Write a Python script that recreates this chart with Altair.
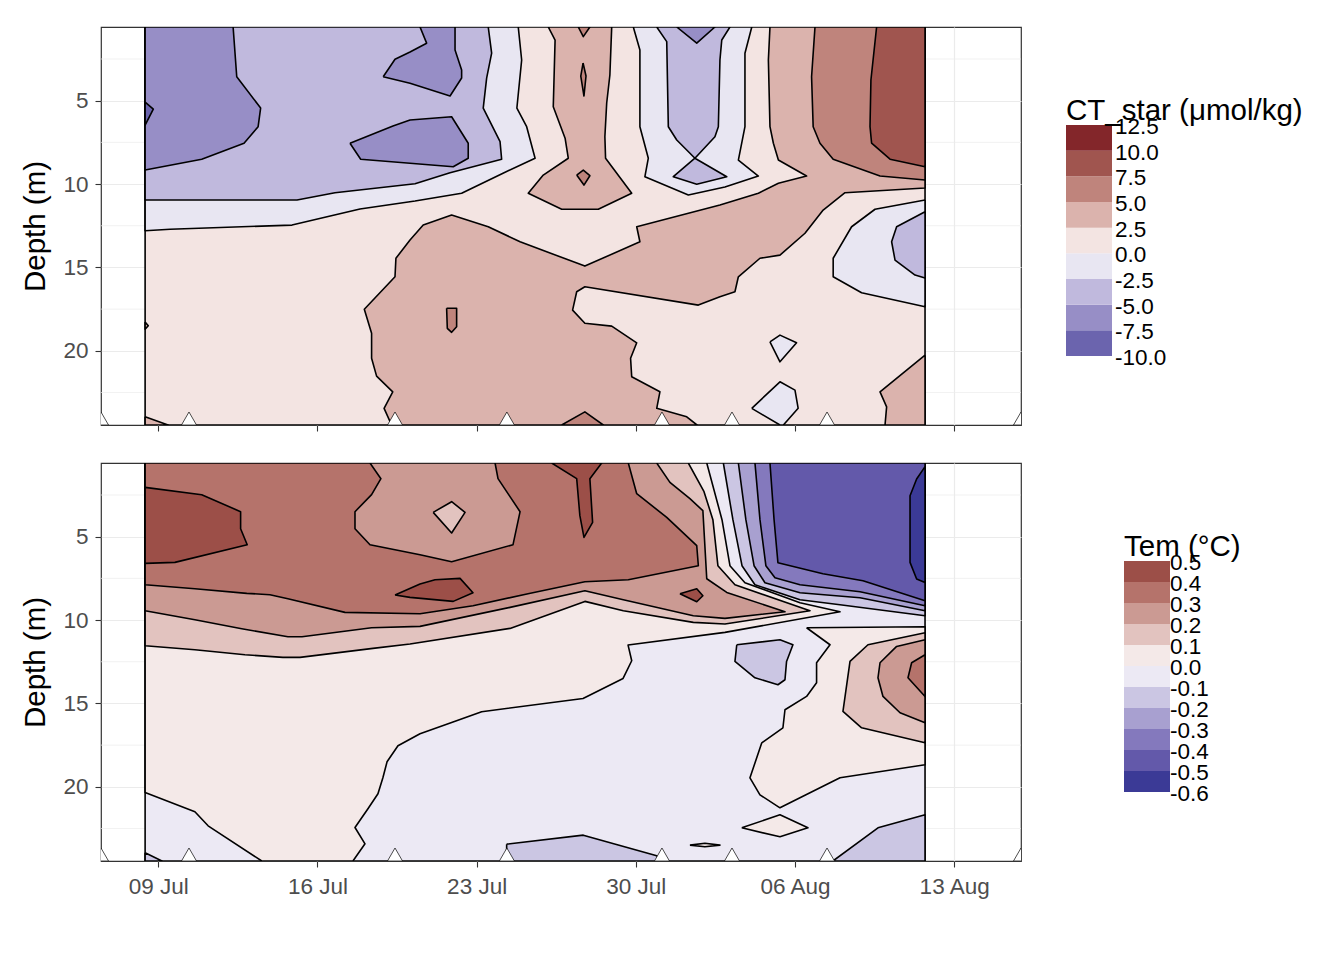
import altair as alt
import pandas as pd

FONT = "Liberation Sans"

# x values are days after 30 June (9 = 09 Jul, 37 = 06 Aug); depth in metres
X_DOMAIN = [6.48, 46.94]
DEPTH_DOMAIN = [0.58, 24.45]
X_TICKS = [9, 16, 23, 30, 37, 44]
X_TICK_LABELS = ["09 Jul", "16 Jul", "23 Jul", "30 Jul", "06 Aug", "13 Aug"]
X_MINOR = [12.5, 19.5, 26.5, 33.5, 40.5]
Y_TICKS = [5, 10, 15, 20]
Y_MINOR = [2.5, 7.5, 12.5, 17.5, 22.5]
SAMPLE_DAYS = [6.48, 10.35, 19.41, 24.33, 31.15, 34.23, 38.41, 46.94]
SAMPLE_DEPTH = 24.45

CT_BREAKS = [-10.0, -7.5, -5.0, -2.5, 0.0, 2.5, 5.0, 7.5, 10.0, 12.5]
CT_COLORS = ["#6b64ae", "#978ec6", "#c0b9dd", "#e8e6f2", "#f3e4e2",
             "#dbb3ad", "#bf847c", "#a0554f", "#83262a"]
TEM_BREAKS = [-0.6, -0.5, -0.4, -0.3, -0.2, -0.1, 0.0, 0.1, 0.2, 0.3, 0.4, 0.5]
TEM_COLORS = ["#3b3a96", "#6359aa", "#8479bd", "#a8a0d0", "#cbc6e3", "#ece9f4",
              "#f4e9e8", "#e2c3bf", "#cb9a93", "#b5736b", "#9c4f48"]

# ---------------- CT_star filled-contour regions (day, depth) ----------------
CT_BG = [(8.42, 0.58), (42.72, 0.58), (42.72, 24.45), (8.42, 24.45)]
CT_A = [(8.42, 0.58), (24.83, 0.58), (24.98, 2.56), (24.77, 5.44), (25.20, 6.56), (25.57, 8.45),
        (24.16, 9.35), (22.34, 10.55), (20.29, 11.02), (17.87, 11.50), (14.88, 12.46),
        (9.52, 12.71), (8.42, 12.80)]
CT_B = [(8.42, 0.58), (23.51, 0.58), (23.66, 2.15), (23.44, 3.65), (23.29, 5.45), (24.03, 7.46),
        (24.10, 8.51), (21.83, 9.32), (20.29, 9.98), (16.77, 10.52), (15.10, 10.96), (8.42, 10.96)]
CT_C = [(8.42, 0.58), (12.29, 0.58), (12.45, 3.56), (13.50, 5.44), (13.39, 6.56), (12.77, 7.55),
        (10.91, 8.51), (8.42, 9.16)]
CT_C0 = [(8.42, 5.08), (8.78, 5.51), (8.42, 6.46)]
CT_D = [(18.89, 3.56), (19.41, 2.51), (20.07, 2.08), (20.80, 1.55), (20.51, 0.58), (22.05, 0.58),
        (22.05, 1.96), (22.34, 3.16), (22.34, 3.64), (21.83, 4.72), (20.07, 3.95)]
CT_E = [(17.43, 7.55), (19.32, 6.52), (20.07, 6.16), (21.90, 5.96), (22.63, 7.55), (22.63, 8.45),
        (21.97, 8.96), (20.07, 8.75), (17.90, 8.51)]
CT_F = [(26.15, 0.58), (26.45, 1.36), (26.37, 5.36), (26.89, 7.25), (27.03, 8.45), (25.93, 9.46),
        (25.27, 10.55), (26.74, 11.51), (28.35, 11.51), (29.82, 10.55), (28.67, 8.45), (28.64, 7.16),
        (28.72, 5.14), (28.86, 3.46), (28.94, 0.58)]
CT_F1 = [(27.47, 0.58), (27.69, 1.16), (27.98, 0.58)]
CT_F2 = [(27.68, 2.74), (27.81, 3.52), (27.72, 4.72), (27.58, 3.52)]
CT_F3 = [(27.40, 9.46), (27.69, 9.16), (27.98, 9.50), (27.72, 10.06)]
CT_G = [(29.89, 0.58), (35.10, 0.58), (34.80, 2.15), (34.80, 6.56), (34.51, 8.56), (35.39, 9.52),
        (33.92, 10.18), (32.31, 10.66), (30.40, 9.56), (30.55, 8.45), (30.18, 6.56), (30.18, 1.96)]
CT_H = [(30.92, 0.58), (31.36, 1.46), (31.43, 6.56), (31.80, 7.36), (32.60, 8.45), (31.65, 9.56),
        (32.68, 10.01), (34.00, 9.56), (32.60, 8.45), (33.48, 7.16), (33.63, 6.56), (33.70, 2.56),
        (33.78, 1.36), (34.14, 0.58)]
CT_H1 = [(31.80, 0.58), (32.68, 1.55), (33.48, 0.58)]
CT_I = [(35.90, 0.58), (42.72, 0.58), (42.72, 10.24), (39.20, 10.52), (38.24, 11.56), (37.44, 12.95),
        (36.34, 14.26), (35.46, 14.45), (34.51, 15.56), (34.36, 16.46), (33.70, 16.76), (32.75, 17.26),
        (27.76, 16.16), (27.40, 16.46), (27.22, 17.56), (27.76, 18.35), (28.94, 18.52), (30.04, 19.52),
        (29.77, 20.45), (29.82, 21.56), (31.06, 22.46), (30.92, 23.45), (32.24, 23.96), (32.69, 24.45),
        (19.26, 24.45), (18.93, 23.45), (19.31, 22.46), (18.60, 21.52), (18.38, 20.45), (18.38, 18.95),
        (18.06, 17.51), (19.41, 15.56), (19.45, 14.45), (20.07, 13.36), (20.65, 12.46), (21.90, 11.86),
        (23.51, 12.56), (24.91, 13.46), (27.76, 14.92), (30.18, 13.46), (30.04, 12.56), (33.70, 11.26),
        (35.39, 10.55), (36.27, 9.95), (37.51, 9.52), (36.27, 8.56), (36.05, 7.55), (35.90, 6.56),
        (35.83, 2.56)]
CT_J = [(37.88, 0.58), (42.72, 0.58), (42.72, 9.76), (40.74, 9.52), (38.68, 8.51), (38.10, 7.55),
        (37.80, 6.56), (37.73, 3.56)]
CT_K = [(40.59, 0.58), (42.72, 0.58), (42.72, 8.96), (41.18, 8.51), (40.37, 7.55), (40.30, 6.56),
        (40.34, 3.76)]
CT_I1 = [(21.68, 17.45), (22.12, 17.45), (22.12, 18.56), (21.90, 18.89), (21.71, 18.65)]
CT_I2 = [(26.74, 24.45), (27.76, 23.66), (28.57, 24.45)]
CT_L = [(42.72, 10.96), (40.52, 11.51), (39.49, 12.56), (38.68, 14.45), (38.68, 15.56), (39.93, 16.52),
        (42.72, 17.36)]
CT_M = [(42.72, 11.66), (41.47, 12.56), (41.25, 13.46), (41.40, 14.56), (42.28, 15.46), (42.72, 15.64)]
CT_N1 = [(35.90, 19.46), (36.34, 19.06), (37.07, 19.52), (36.34, 20.66)]
CT_N2 = [(35.10, 23.45), (36.34, 21.86), (37.00, 22.36), (37.14, 23.45), (36.49, 24.45), (36.34, 24.45)]
CT_O = [(42.72, 20.26), (40.74, 22.46), (41.03, 23.36), (40.96, 24.45), (42.72, 24.45)]
CT_P = [(8.42, 23.96), (9.43, 24.45), (8.42, 24.45)]
CT_P2 = [(8.42, 18.28), (8.56, 18.50), (8.42, 18.70)]

# (class index into CT_COLORS, region) in drawing order
CT_LAYERS = [(4, CT_BG), (3, CT_A), (2, CT_B), (1, CT_C), (0, CT_C0), (1, CT_D), (1, CT_E),
             (5, CT_F), (6, CT_F1), (6, CT_F2), (6, CT_F3), (3, CT_G), (2, CT_H), (1, CT_H1),
             (5, CT_I), (6, CT_J), (7, CT_K), (6, CT_I1), (6, CT_I2), (3, CT_L), (2, CT_M),
             (3, CT_N1), (3, CT_N2), (5, CT_O), (5, CT_P), (5, CT_P2)]

# ---------------- Temperature filled-contour regions (day, depth) ----------------
T_BG = [(8.42, 0.58), (42.72, 0.58), (42.72, 24.45), (8.42, 24.45)]
T_Q6 = [(8.42, 0.58), (33.12, 0.58), (33.79, 3.98), (34.14, 6.74), (34.80, 7.76), (37.22, 8.96),
        (38.98, 9.50), (33.92, 10.74), (29.66, 11.50), (29.82, 12.44), (29.44, 13.50), (27.68, 14.70),
        (23.22, 15.50), (21.90, 16.14), (20.51, 16.82), (19.54, 17.54), (19.06, 18.50), (18.88, 19.44),
        (18.66, 20.42), (18.22, 21.32), (17.65, 22.44), (18.09, 23.42), (17.56, 24.45), (13.55, 24.45),
        (11.19, 22.34), (10.61, 21.50), (8.42, 20.34)]
T_Q7 = [(8.42, 0.58), (32.31, 0.58), (33.00, 2.30), (33.39, 3.98), (33.61, 6.74), (34.36, 7.88),
        (37.66, 9.44), (33.92, 10.24), (32.53, 10.14), (29.45, 9.44), (27.76, 8.88), (24.47, 10.50),
        (20.07, 11.44), (18.44, 11.70), (15.23, 12.24), (14.48, 12.24), (12.81, 12.08), (10.61, 11.78),
        (8.42, 11.54)]
T_Q8 = [(8.42, 0.58), (30.92, 0.58), (31.50, 1.74), (32.38, 2.72), (32.95, 3.44), (33.12, 7.52),
        (34.00, 8.34), (36.56, 9.50), (33.92, 9.90), (32.53, 9.74), (29.45, 8.78), (27.76, 8.24),
        (24.47, 9.24), (20.51, 10.38), (18.38, 10.46), (15.32, 11.00), (14.70, 11.00), (12.67, 10.52),
        (10.61, 9.98), (8.42, 9.44)]
T_Q9 = [(8.42, 0.58), (29.67, 0.58), (30.04, 2.42), (31.36, 3.84), (32.68, 5.54), (32.75, 6.74),
        (29.67, 7.58), (27.76, 7.70), (25.26, 8.42), (22.84, 9.14), (20.51, 9.62), (17.21, 9.54),
        (14.70, 8.72), (13.91, 8.48), (12.89, 8.40), (10.61, 8.12), (8.42, 7.88)]
T_8P = [(18.31, 0.58), (23.81, 0.58), (23.94, 1.52), (24.91, 3.50), (24.60, 5.48), (21.90, 6.50),
        (20.51, 6.08), (18.31, 5.48), (17.65, 4.52), (17.65, 3.50), (18.38, 2.48), (18.79, 1.52)]
T_7I = [(21.09, 3.54), (21.90, 2.90), (22.49, 3.54), (21.90, 4.78)]
T_10A = [(8.42, 2.04), (10.91, 2.48), (12.62, 3.50), (12.62, 4.52), (12.91, 5.48), (9.73, 6.54),
         (8.42, 6.60)]
T_10B = [(26.30, 0.58), (27.40, 1.52), (27.54, 3.74), (27.72, 5.04), (28.10, 4.14), (27.98, 1.52),
         (28.50, 0.58)]
T_10C = [(19.41, 8.50), (20.51, 7.84), (21.17, 7.58), (22.27, 7.50), (22.84, 8.36), (21.97, 8.88),
         (20.07, 8.64)]
T_10D = [(31.94, 8.42), (32.68, 8.12), (32.95, 8.54), (32.68, 8.90)]
T_C4 = [(33.85, 0.58), (42.72, 0.58), (42.72, 9.74), (38.98, 9.08), (37.22, 8.78), (35.24, 7.88),
        (34.67, 6.74), (34.27, 3.98)]
T_C3 = [(34.51, 0.58), (42.72, 0.58), (42.72, 9.44), (39.86, 8.66), (37.22, 8.36), (35.68, 7.76),
        (35.20, 6.74), (34.84, 3.98)]
T_C2 = [(35.24, 0.58), (42.72, 0.58), (42.72, 9.14), (39.86, 8.30), (37.22, 7.88), (36.12, 7.46),
        (35.72, 6.74), (35.46, 3.98)]
T_C1 = [(35.90, 0.58), (42.72, 0.58), (42.72, 8.84), (39.99, 7.64), (38.23, 7.22), (36.25, 6.56),
        (36.08, 3.98)]
T_C0 = [(42.72, 0.80), (42.35, 1.54), (42.06, 2.54), (42.06, 6.54), (42.35, 7.54), (42.72, 7.74)]
T_6R = [(37.51, 10.46), (42.72, 10.40), (42.72, 18.68), (38.98, 19.46), (36.34, 21.26), (35.46, 20.48),
        (35.02, 19.46), (35.54, 17.36), (36.47, 16.46), (36.56, 15.38), (37.51, 14.58), (37.95, 13.76),
        (37.95, 12.56), (38.54, 11.48)]
T_7R = [(42.72, 10.76), (40.21, 11.48), (39.42, 12.48), (39.11, 15.48), (39.93, 16.46), (42.72, 17.36)]
T_8R = [(42.72, 11.18), (41.47, 11.58), (40.74, 12.56), (40.65, 13.46), (40.87, 14.58), (41.62, 15.56),
        (42.72, 16.16)]
T_9R = [(42.72, 12.08), (42.13, 12.56), (41.97, 13.46), (42.72, 14.58)]
T_4I = [(34.44, 11.48), (36.34, 11.18), (36.91, 11.48), (36.63, 12.48), (36.56, 13.58), (36.25, 13.88),
        (35.24, 13.46), (34.36, 12.48)]
T_6I = [(34.66, 22.46), (36.34, 21.68), (37.57, 22.46), (36.34, 23.00)]
T_4R = [(38.67, 24.45), (40.65, 22.46), (42.72, 21.68), (42.72, 24.45)]
T_4M = [(24.32, 23.44), (27.69, 22.90), (30.92, 24.14), (31.15, 24.45), (24.32, 24.45)]
T_4L = [(8.42, 23.96), (9.16, 24.45), (8.42, 24.45)]
T_6S = [(32.38, 23.50), (33.04, 23.39), (33.70, 23.50), (33.04, 23.60)]

TEM_LAYERS = [(5, T_BG), (6, T_Q6), (7, T_Q7), (8, T_Q8), (9, T_Q9), (8, T_8P), (7, T_7I),
              (10, T_10A), (10, T_10B), (10, T_10C), (10, T_10D), (4, T_C4), (3, T_C3), (2, T_C2),
              (1, T_C1), (0, T_C0), (6, T_6R), (7, T_7R), (8, T_8R), (9, T_9R), (4, T_4I), (6, T_6I),
              (4, T_4R), (4, T_4M), (4, T_4L), (6, T_6S)]

LABEL_EXPR = " : ".join(f"datum.value == {v} ? '{t}'" for v, t in zip(X_TICKS, X_TICK_LABELS)) + " : ''"


def poly_frame(layers, colors):
    rows, pids, fills = [], [], []
    for n, (cls, pts) in enumerate(layers):
        pid = f"p{n:03d}"
        pids.append(pid)
        fills.append(colors[cls])
        for i, (d, z) in enumerate(list(pts) + [pts[0]]):
            rows.append({"pid": pid, "i": i, "day": d, "depth": z})
    return pd.DataFrame(rows), pids, fills


def panel(layers, colors, show_x_labels):
    df, pids, fills = poly_frame(layers, colors)
    xs = alt.Scale(domain=X_DOMAIN, nice=False, zero=False)
    ys = alt.Scale(domain=DEPTH_DOMAIN, reverse=True, nice=False, zero=False)
    X = alt.X("day:Q", scale=xs,
              axis=alt.Axis(values=X_TICKS, labelExpr=LABEL_EXPR, labels=show_x_labels, title=None,
                            grid=True, tickSize=6, labelPadding=8))
    Y = alt.Y("depth:Q", scale=ys,
              axis=alt.Axis(values=Y_TICKS, title="Depth (m)", grid=True, tickSize=6,
                            labelPadding=7, titlePadding=12))
    minor_x = alt.Chart(pd.DataFrame({"day": X_MINOR})).mark_rule(
        color="#EBEBEB", strokeWidth=0.7).encode(x=X)
    minor_y = alt.Chart(pd.DataFrame({"depth": Y_MINOR})).mark_rule(
        color="#EBEBEB", strokeWidth=0.7).encode(y=Y)
    polys = alt.Chart(df).mark_line(
        stroke="black", strokeWidth=1.6, strokeJoin="round", clip=True
    ).encode(
        x=X, y=Y, order=alt.Order("i:Q"),
        fill=alt.Fill("pid:N", scale=alt.Scale(domain=pids, range=fills), legend=None),
    )
    tri = alt.Chart(pd.DataFrame({"day": SAMPLE_DAYS, "depth": [SAMPLE_DEPTH] * len(SAMPLE_DAYS)})).mark_point(
        shape="triangle-up", size=225, filled=True, fill="white", stroke="black",
        strokeWidth=0.7, opacity=1, yOffset=-6.5, clip=True
    ).encode(x=X, y=Y)
    return alt.layer(minor_x, minor_y, polys, tri).properties(
        width=920, height=398, view=alt.ViewBackground(stroke="#333333", strokeWidth=1.2))


def legend(breaks, colors, title, x0, label_x, top_tick):
    n = len(colors)
    ysc = alt.Scale(domain=[breaks[0], breaks[-1]], range=[329, 98], nice=False, zero=False)
    bins = pd.DataFrame({"lo": breaks[:-1], "hi": breaks[1:], "cls": list(range(n))})
    rects = alt.Chart(bins).mark_rect().encode(
        y=alt.Y("lo:Q", scale=ysc, axis=None), y2="hi:Q",
        x=alt.value(x0), x2=alt.value(x0 + 46),
        fill=alt.Fill("cls:N", scale=alt.Scale(domain=list(range(n)), range=colors), legend=None),
    )
    labs = pd.DataFrame({"lo": breaks, "txt": [f"{v:.1f}" for v in breaks]})
    labels = alt.Chart(labs).mark_text(
        align="left", baseline="middle", fontSize=22.5, font=FONT, color="black", dy=2
    ).encode(y=alt.Y("lo:Q", scale=ysc, axis=None), x=alt.value(label_x), text="txt:N")
    ttl = alt.Chart(pd.DataFrame({"t": [title]})).mark_text(
        align="left", baseline="alphabetic", fontSize=29.5, font=FONT, color="black"
    ).encode(x=alt.value(x0), y=alt.value(93), text="t:N")
    layers = [rects, labels, ttl]
    if top_tick:
        tick = alt.Chart(pd.DataFrame({"lo": [breaks[-1]]})).mark_rule(color="black", strokeWidth=1.2).encode(
            y=alt.Y("lo:Q", scale=ysc, axis=None), x=alt.value(x0 + 41), x2=alt.value(x0 + 55))
        layers.append(tick)
    return alt.layer(*layers).properties(
        width=290, height=398, view=alt.ViewBackground(stroke="transparent"))


top = panel(CT_LAYERS, CT_COLORS, False)
bottom = panel(TEM_LAYERS, TEM_COLORS, True)
leg_top = legend(CT_BREAKS, CT_COLORS, "CT_star (μmol/kg)", 44, 93, True)
leg_bot = legend(TEM_BREAKS, TEM_COLORS, "Tem (°C)", 102, 148, False)

row1 = alt.hconcat(top, leg_top, spacing=0).resolve_scale(x="independent", y="independent", fill="independent")
row2 = alt.hconcat(bottom, leg_bot, spacing=0).resolve_scale(x="independent", y="independent", fill="independent")

chart = alt.vconcat(row1, row2, spacing=29).resolve_scale(
    x="independent", y="independent", fill="independent"
).properties(
    padding={"left": 12, "top": 18, "right": 5, "bottom": 5}
).configure_axis(
    labelFont=FONT, titleFont=FONT, labelFontSize=22.5, titleFontSize=29.5,
    labelColor="#4D4D4D", titleColor="black", titleFontWeight="normal",
    tickColor="#333333", tickWidth=1.1, domain=False,
    gridColor="#EBEBEB", gridWidth=1.2,
).configure_view(strokeWidth=0)

chart.save("out.html", embed_options={"renderer": "svg", "actions": False})
